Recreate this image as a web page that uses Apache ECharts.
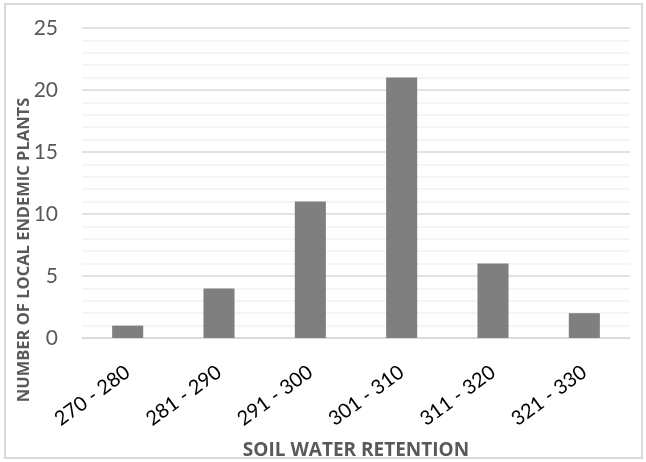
<!DOCTYPE html>
<html>
<head>
<meta charset="utf-8">
<script src="https://cdn.jsdelivr.net/npm/echarts@6/dist/echarts.min.js"></script>
<style>
  html, body { margin: 0; padding: 0; background: #fff; }
  #frame { position: absolute; left: 4px; top: 3px; width: 639px; height: 456px; border: 2px solid #d9d9d9; box-sizing: border-box; }
  #chart { position: absolute; left: 0; top: 0; width: 646px; height: 462px; }
</style>
</head>
<body>
<div id="frame"></div>
<div id="chart"></div>
<script>
// Soil water retention classes and plant counts
const categories = ['270 - 280', '281 - 290', '291 - 300', '301 - 310', '311 - 320', '321 - 330'];
const plantCounts = [1, 4, 11, 21, 6, 2];
const yTicks = [0, 5, 10, 15, 20, 25];
const xTitle = 'SOIL WATER RETENTION';
const yTitle = 'NUMBER OF LOCAL ENDEMIC PLANTS';

const TICK_FONT = 'Lato, "Open Sans", sans-serif';
const TITLE_FONT = '"Open Sans", "Noto Sans", sans-serif';
const chart = echarts.init(document.getElementById('chart'), null, { renderer: 'canvas' });

chart.setOption({
  animation: false,
  grid: { left: 82, right: 16, top: 28, bottom: 124, containLabel: false, outerBoundsMode: 'none' },
  // vertical axis title, set lower than the plot centre
  graphic: [{
    type: 'text',
    x: 24,
    y: 250,
    rotation: Math.PI / 2,
    style: {
      text: yTitle,
      fontFamily: TITLE_FONT,
      fontSize: 16.5,
      fontWeight: 'bold',
      fill: '#595959',
      align: 'center',
      verticalAlign: 'middle'
    }
  }],
  xAxis: {
    type: 'category',
    data: categories,
    name: xTitle,
    nameLocation: 'middle',
    nameGap: 103,
    nameTextStyle: { fontFamily: TITLE_FONT, fontSize: 19, fontWeight: 'bold', color: '#595959' },
    axisLine: { show: true, lineStyle: { color: '#d9d9d9', width: 1.5 } },
    axisTick: { show: false },
    axisLabel: { rotate: 36, margin: 32, fontFamily: TICK_FONT, fontSize: 20, color: '#000000', interval: 0 }
  },
  yAxis: {
    type: 'value',
    min: yTicks[0],
    max: yTicks[yTicks.length - 1],
    interval: 5,
    axisLine: { show: false },
    axisTick: { show: false },
    axisLabel: { margin: 24, fontFamily: TICK_FONT, fontSize: 21, color: '#595959' },
    splitLine: { show: true, lineStyle: { color: '#d9d9d9', width: 1.5 } },
    minorTick: { show: false, splitNumber: 5 },
    minorSplitLine: { show: true, lineStyle: { color: '#f2f2f2', width: 1.5 } }
  },
  series: [{
    type: 'bar',
    data: plantCounts,
    barWidth: '34%',
    itemStyle: { color: '#7f7f7f' }
  }]
});
</script>
</body>
</html>
